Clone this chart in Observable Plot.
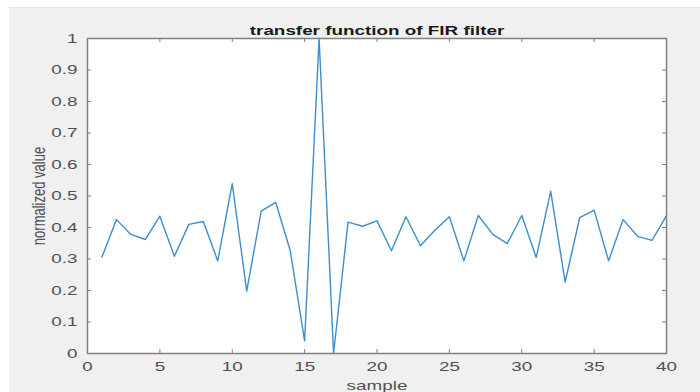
<!DOCTYPE html>
<html>
<head>
<meta charset="utf-8">
<script src="https://cdn.jsdelivr.net/npm/d3@7"></script>
<script src="https://cdn.jsdelivr.net/npm/@observablehq/plot@0.6"></script>
<style>
  html, body { margin: 0; padding: 0; background: #ffffff; }
  #wrap { position: absolute; left: 9px; top: 7px; width: 691px; height: 385px; background: #f0f0f0; border-top: 1px solid #e2e2e2; box-sizing: border-box; }
  #wrap svg { position: absolute; left: 0; top: -1px; }
</style>
</head>
<body>
<div id="wrap"></div>
<script>
const title = "transfer function of FIR filter";
const xLabel = "sample";
const yLabel = "normalized value";
const samples = d3.range(1, 41);
const values = [
  0.306, 0.425, 0.378, 0.362, 0.436, 0.309, 0.410, 0.419, 0.294, 0.539,
  0.198, 0.452, 0.480, 0.328, 0.040, 1.000, 0.000, 0.417, 0.404, 0.421,
  0.326, 0.434, 0.342, 0.391, 0.434, 0.294, 0.438, 0.378, 0.349, 0.438,
  0.305, 0.515, 0.227, 0.431, 0.455, 0.294, 0.425, 0.372, 0.359, 0.438
];
const xTicks = [0, 5, 10, 15, 20, 25, 30, 35, 40];
const yTicks = [0, 0.1, 0.2, 0.3, 0.4, 0.5, 0.6, 0.7, 0.8, 0.9, 1];

const data = samples.map((s, i) => ({sample: s, value: values[i]}));

const W = 691, H = 385;
const mL = 78, mR = 34, mT = 31, mB = 39;
const fw = W - mL - mR, fh = H - mT - mB;
const tl = 4;
const axisColor = "#808080";
const textColor = "#505050";
const stretch = 1.45;

const chart = Plot.plot({
  width: W,
  height: H,
  marginLeft: mL,
  marginRight: mR,
  marginTop: mT,
  marginBottom: mB,
  style: {background: "transparent", fontFamily: "'Liberation Sans', Arial, sans-serif", fontSize: "13px", color: textColor},
  x: {domain: [0, 40], ticks: xTicks},
  y: {domain: [0, 1], ticks: yTicks},
  marks: [
    Plot.frame({fill: "white", stroke: "none"}),
    Plot.axisX(xTicks, {tickSize: 0, tickPadding: 8, fontSize: 13, fill: textColor, label: xLabel, labelAnchor: "center", labelArrow: "none", labelOffset: 36}),
    Plot.axisY(yTicks, {tickSize: 0, tickPadding: 10, fontSize: 13, fill: textColor, tickFormat: d => String(d), label: yLabel, labelAnchor: "center", labelArrow: "none", labelOffset: 54}),
    Plot.tickX(xTicks, {x: d => d, insetTop: fh - tl, stroke: axisColor}),
    Plot.tickX(xTicks, {x: d => d, insetBottom: fh - tl, stroke: axisColor}),
    Plot.tickY(yTicks, {y: d => d, insetLeft: fw - tl, stroke: axisColor}),
    Plot.tickY(yTicks, {y: d => d, insetRight: fw - tl, stroke: axisColor}),
    Plot.line(data, {x: "sample", y: "value", stroke: "#3b8ed0", strokeWidth: 1.4}),
    Plot.frame({stroke: axisColor, strokeWidth: 1.5}),
    Plot.text([title], {frameAnchor: "top", lineAnchor: "bottom", dy: -4, fontWeight: "bold", fontSize: 13, fill: "#1a1a1a"})
  ]
});
document.getElementById("wrap").appendChild(chart);

// The reference picture is horizontally stretched: widen glyphs to match.
const texts = Array.from(chart.querySelectorAll("text"));
texts.forEach(t => {
  if (t.textContent === yLabel) return;
  const len = t.getComputedTextLength();
  t.setAttribute("textLength", len * stretch);
  t.setAttribute("lengthAdjust", "spacingAndGlyphs");
});
const yl = texts.find(t => t.textContent === yLabel);
if (yl) {
  let g = yl;
  while (g.parentNode && g.parentNode !== chart) g = g.parentNode;
  const svgRect = chart.getBoundingClientRect();
  const r = yl.getBoundingClientRect();
  const cx = r.left + r.width / 2 - svgRect.left;
  const wrapG = document.createElementNS("http://www.w3.org/2000/svg", "g");
  wrapG.setAttribute("transform", `translate(${cx},0) scale(${stretch},1) translate(${-cx},0)`);
  chart.insertBefore(wrapG, g);
  wrapG.appendChild(g);
}
</script>
</body>
</html>
